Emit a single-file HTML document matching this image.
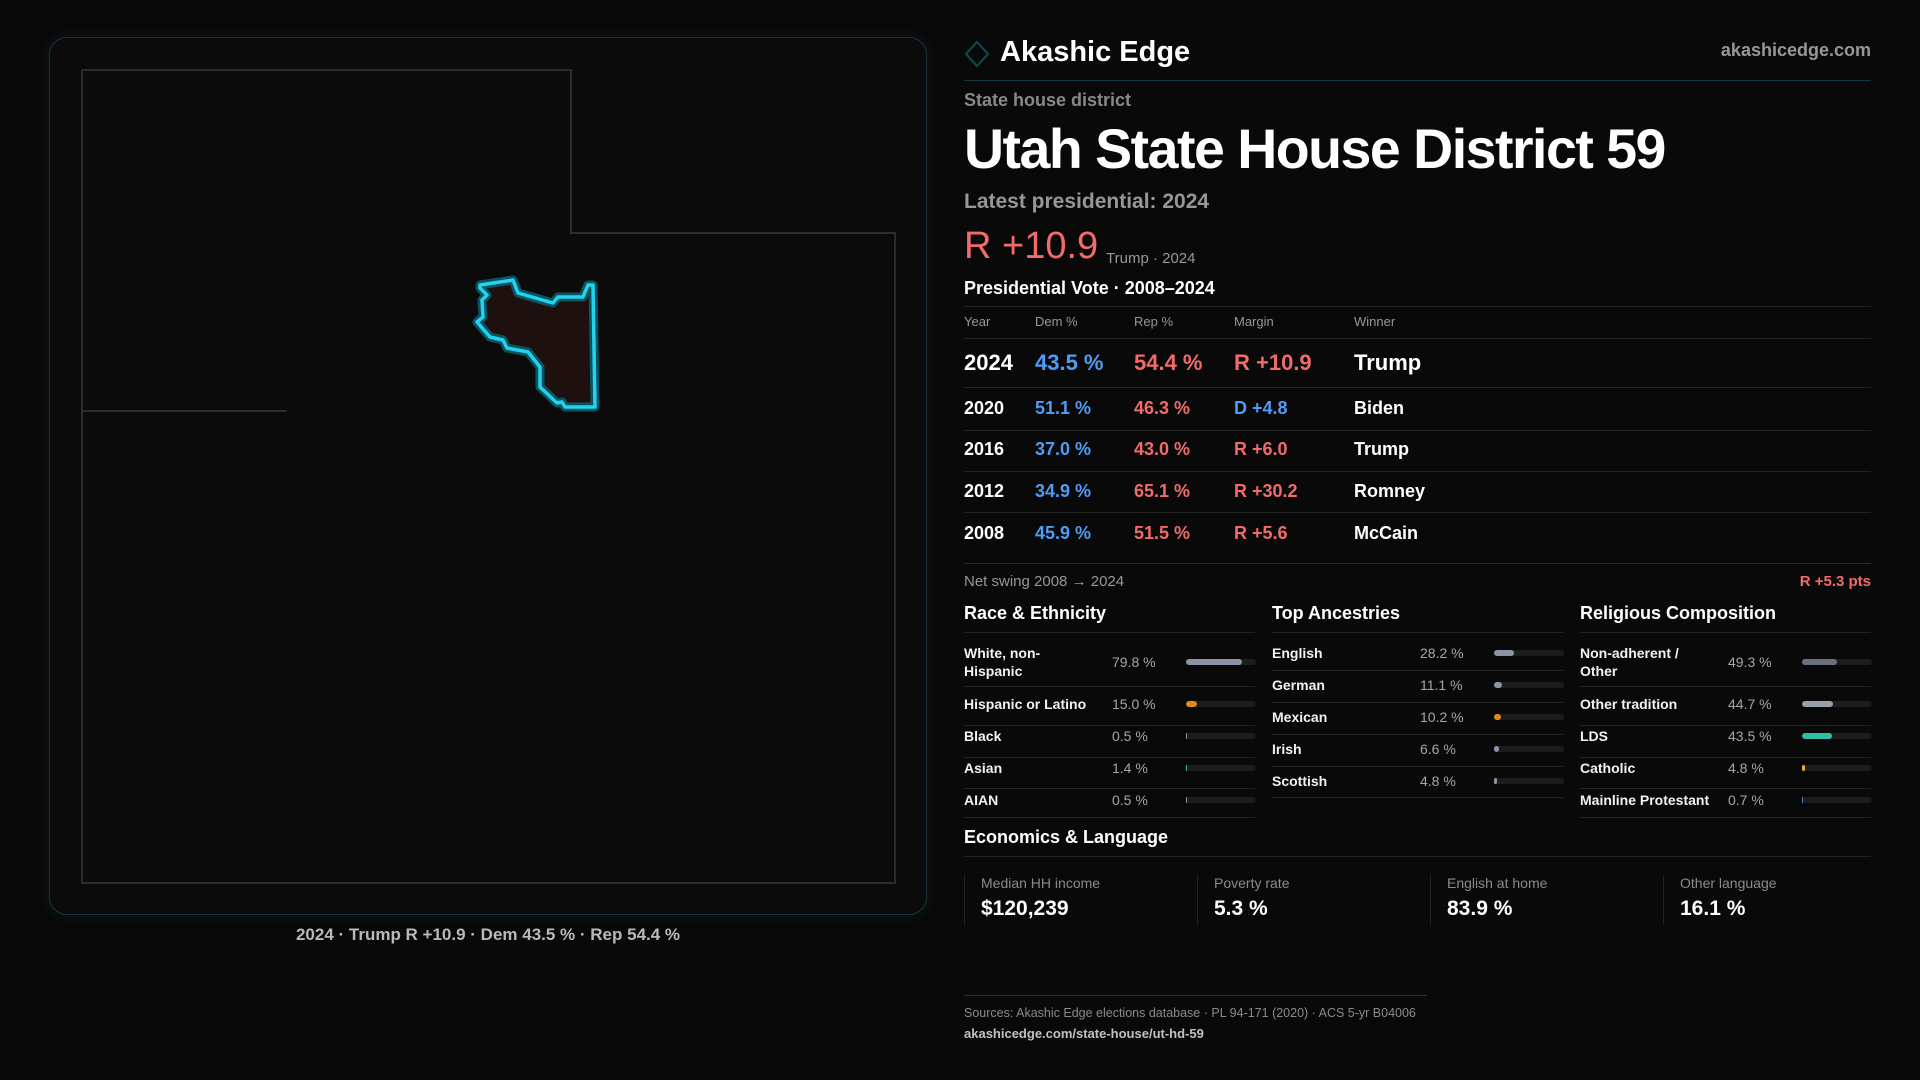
<!DOCTYPE html>
<html><head><meta charset="utf-8">
<style>
*{margin:0;padding:0;box-sizing:border-box}
body{width:1920px;height:1080px;background:#0a0909;font-family:"Liberation Sans",sans-serif;color:#fff;position:relative;overflow:hidden}
.abs{position:absolute;white-space:nowrap}
.line{position:absolute;height:1px;background:#222}
.g{color:#9a9696}
.red{color:#f26b6b}.blue{color:#4f9cf5}
.row{position:absolute;left:964px;width:907px;font-weight:bold}
.row span{position:absolute;top:0}
.col3 .lbl{position:absolute;font-size:14px;font-weight:bold;color:#f2f2f2;line-height:18px}
.col3 .val{position:absolute;font-size:14px;color:#a9a5a5}
</style></head><body>
<div class="abs" style="left:49px;top:37px;width:878px;height:878px;border:1px solid #14343a;border-radius:18px;background:#0b0b0b;box-shadow:0 0 12px rgba(20,80,90,0.25)"></div>
<svg class="abs" style="left:0;top:0" width="940" height="940">
<polyline points="82,70 571,70 571,233 895,233 895,883 82,883 82,70" fill="none" stroke="#2c2c2c" stroke-width="2"/>
<line x1="82" y1="411" x2="287" y2="411" stroke="#2c2c2c" stroke-width="2"/>
<polygon points="480,285 513,280 518,293 553,303 558,297 583,297 588,285 593,285 595,407 565,407 562,402 557,403 540,387 540,367 528,352 507,348 503,340 490,337 477,322 483,317 482,300 487,295 480,288" fill="#1f1010" stroke="#0b5360" stroke-width="9" stroke-linejoin="round"/>
<polygon points="480,285 513,280 518,293 553,303 558,297 583,297 588,285 593,285 595,407 565,407 562,402 557,403 540,387 540,367 528,352 507,348 503,340 490,337 477,322 483,317 482,300 487,295 480,288" fill="none" stroke="#22d3ee" stroke-width="3.5" stroke-linejoin="round"/>
</svg>
<div class="abs" style="left:488px;top:925px;transform:translateX(-50%);font-size:17px;color:#bdb8b8;font-weight:bold">2024 · Trump R +10.9 · Dem 43.5 % · Rep 54.4 %</div>

<svg class="abs" style="left:964px;top:40px" width="26" height="28"><polygon points="13,2 24,14 13,26 2,14" fill="none" stroke="#124a52" stroke-width="2"/></svg>
<div class="abs" style="left:1000px;top:36px;font-size:29px;font-weight:bold">Akashic Edge</div>
<div class="abs g" style="right:49px;top:40px;font-size:18px;font-weight:bold">akashicedge.com</div>
<div class="line" style="left:964px;width:907px;top:80px;background:#163a40"></div>
<div class="abs g" style="left:964px;top:90px;font-size:18px;font-weight:bold;color:#8b8787">State house district</div>
<div class="abs" style="left:964px;top:116px;font-size:56px;font-weight:bold;letter-spacing:-1.5px;transform:scaleX(0.99);transform-origin:left">Utah State House District 59</div>
<div class="abs g" style="left:964px;top:190px;font-size:21px;font-weight:bold">Latest presidential: 2024</div>
<div class="abs red" style="left:964px;top:225px;font-size:38px">R +10.9</div>
<div class="abs g" style="left:1106px;top:250px;font-size:15px">Trump · 2024</div>
<div class="abs" style="left:964px;top:278px;font-size:18px;font-weight:bold">Presidential Vote · 2008–2024</div>
<div class="line" style="left:964px;width:907px;top:306px"></div>
<div class="row g" style="top:314px;font-size:13px;font-weight:normal"><span style="left:0">Year</span><span style="left:71px">Dem %</span><span style="left:170px">Rep %</span><span style="left:270px">Margin</span><span style="left:390px">Winner</span></div>
<div class="line" style="left:964px;width:907px;top:338px"></div>
<div id="rows"></div>
<div class="line" style="left:964px;width:907px;top:563px;background:#2a2a2a"></div>
<div class="abs g" style="left:964px;top:573px;font-size:15px">Net swing 2008 → 2024</div>
<div class="abs red" style="right:49px;top:573px;font-size:15px;font-weight:bold">R +5.3 pts</div>
<div id="cols"></div>
<div class="abs" style="left:964px;top:827px;font-size:18px;font-weight:bold">Economics &amp; Language</div>
<div class="line" style="left:964px;width:907px;top:856px"></div>
<div id="cards"></div>
<div class="line" style="left:964px;width:463px;top:995px;background:#163a40"></div>
<div class="abs g" style="left:964px;top:1006px;font-size:12.5px;color:#8d8989">Sources: Akashic Edge elections database · PL 94-171 (2020) · ACS 5-yr B04006</div>
<div class="abs" style="left:964px;top:1026px;font-size:13px;color:#c4c0c0;font-weight:bold">akashicedge.com/state-house/ut-hd-59</div>
<script>
const years=["2024","2020","2016","2012","2008"];
const dem=[43.5,51.1,37.0,34.9,45.9];
const rep=[54.4,46.3,43.0,65.1,51.5];
const winners=["Trump","Biden","Trump","Romney","McCain"];
const rowTops=[350,398,439,481,523];
const rowsEl=document.getElementById('rows');
years.forEach((y,i)=>{
  const m=rep[i]-dem[i];
  const r=document.createElement('div');
  r.className='row';
  
  
  r.style.top=rowTops[i]+'px';
  r.style.fontSize=(i===0?22:18)+'px';
  const mt=(m>=0?'R +':'D +')+Math.abs(m).toFixed(1);
  r.innerHTML=`<span style="left:0">${y}</span><span class="blue" style="left:71px">${dem[i].toFixed(1)} %</span><span class="red" style="left:170px">${rep[i].toFixed(1)} %</span><span class="${m>=0?'red':'blue'}" style="left:270px">${mt}</span><span style="left:390px">${winners[i]}</span>`;
  rowsEl.appendChild(r);
  if(i<4){const l=document.createElement('div');l.className='line';l.style.cssText='left:964px;width:907px;top:'+[387,430,471,512][i]+'px';rowsEl.appendChild(l);}
});
const raceLabels=["White, non-<br>Hispanic","Hispanic or Latino","Black","Asian","AIAN"];
const raceValues=[79.8,15.0,0.5,1.4,0.5];
const raceColors=["#8a94a6","#d98a1a","#8a94a6","#2ebfa5","#8a94a6"];
const ancLabels=["English","German","Mexican","Irish","Scottish"];
const ancValues=[28.2,11.1,10.2,6.6,4.8];
const ancColors=["#8a94a6","#8a94a6","#d98a1a","#8a94a6","#8a94a6"];
const relLabels=["Non-adherent /<br>Other","Other tradition","LDS","Catholic","Mainline Protestant"];
const relValues=[49.3,44.7,43.5,4.8,0.7];
const relColors=["#6b7080","#9aa0aa","#2ebfa5","#e0b020","#4a7fd0"];
const colsEl=document.getElementById('cols');
function col(x,title,labels,values,colors,centers,lines,name){
  const c=document.createElement('div');
  c.className='col3';
  
  
  c.innerHTML=`<div class="abs" style="left:${x}px;top:603px;font-size:18px;font-weight:bold">${title}</div><div class="line" style="left:${x}px;width:291px;top:632px"></div>`;
  labels.forEach((lb,i)=>{
    const cy=centers[i];
    const two=lb.indexOf('<br>')>=0;
    const w=values[i]/100*70;
    c.innerHTML+=`<div class="lbl" style="left:${x}px;top:${cy-(two?18:9)}px">${lb}</div><div class="val" style="left:${x+148}px;top:${cy-8}px">${values[i].toFixed(1)} %</div><div class="abs" style="left:${x+222}px;top:${cy-3}px;width:70px;height:6px;border-radius:3px;background:#1c1c1c"></div><div class="abs" style="left:${x+222}px;top:${cy-3}px;width:${w}px;height:6px;border-radius:3px;background:${colors[i]}"></div><div class="line" style="left:${x}px;width:291px;top:${lines[i]}px"></div>`;
  });
  colsEl.appendChild(c);
}
col(964,"Race &amp; Ethnicity",raceLabels,raceValues,raceColors,[662,704,736,768,800],[686,725,757,788,817],'race-ethnicity');
col(1272,"Top Ancestries",ancLabels,ancValues,ancColors,[653,685,717,749,781],[670,702,734,766,797],'top-ancestries');
col(1580,"Religious Composition",relLabels,relValues,relColors,[662,704,736,768,800],[686,725,757,788,817],'religious-composition');
const cardLabels=["Median HH income","Poverty rate","English at home","Other language"];
const cardValues=["$120,239","5.3 %","83.9 %","16.1 %"];
const cardsEl=document.getElementById('cards');
cardLabels.forEach((lb,i)=>{
  const d=document.createElement('div');
  
  
  d.className='abs';
  d.style.cssText=`left:${964+i*233}px;top:875px;width:233px;height:50px;border-left:1px solid #222`;
  d.innerHTML=`<div class="abs" style="left:16px;top:0;font-size:14px;color:#8d8989">${lb}</div><div class="abs" style="left:16px;top:22px;font-size:21px;font-weight:bold">${cardValues[i]}</div>`;
  cardsEl.appendChild(d);
});
</script>
</body></html>
